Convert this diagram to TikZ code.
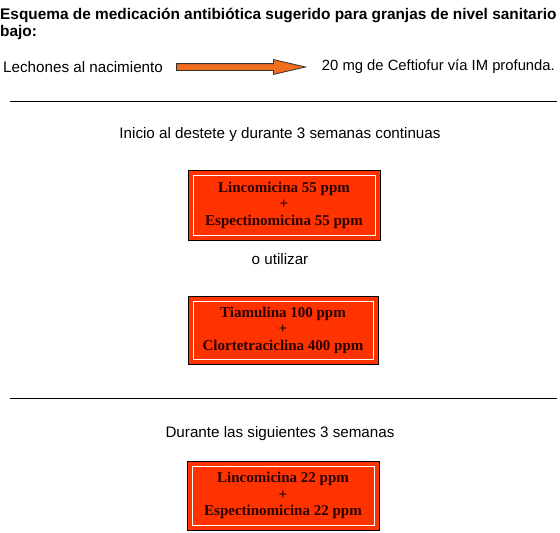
\documentclass[tikz,border=0pt]{standalone}
\usepackage{fontspec}
\setmainfont{Liberation Sans}
\newfontfamily\dosisfont{Liberation Serif}
\usetikzlibrary{positioning,shapes.arrows}
\definecolor{dosisred}{RGB}{255,51,0}
\definecolor{dosistext}{RGB}{40,0,0}
\definecolor{flechaorange}{RGB}{240,110,30}

\begin{document}
\begin{tikzpicture}[x=1pt,y=-1pt,
  dosis/.style={draw=black,fill=dosisred,text=dosistext,align=center,inner sep=0pt,
    font=\dosisfont\bfseries\fontsize{15}{16.5}\selectfont},
  texto/.style={inner sep=0pt,font=\fontsize{15.2}{16}\selectfont}]
\useasboundingbox (0,0) rectangle (560,533);

% Title
\node[anchor=north west,inner sep=0pt,align=left,font=\bfseries\fontsize{15.4}{17}\selectfont] (titulo) at (0,8.5)
  {Esquema de medicación antibiótica sugerido para granjas de nivel sanitario\\bajo:};

% Birth
\node[texto,anchor=west] (lechones) at (3,67) {Lechones al nacimiento};
\node[texto,anchor=east,font=\fontsize{14.8}{16}\selectfont] (ceftiofur) at (555,67) {20 mg de Ceftiofur vía IM profunda.};
\node[single arrow,draw=black!80,fill=flechaorange,anchor=west,right=13 of lechones.east,
  minimum height=129,single arrow head extend=4,single arrow tip angle=26,inner sep=3,
  text height=0pt,text depth=0pt,text width=0pt,line width=0.8] (flecha) {};

\coordinate (sep1a) at (10,101);
\coordinate (sep1b) at (557,101);
\draw[line width=0.8] (sep1a) -- (sep1b);

% Weaning
\node[texto] (destete) at (280,135) {Inicio al destete y durante 3 semanas continuas};
\node[dosis,minimum width=192,minimum height=70] (caja1) at (284,205)
  {Lincomicina 55 ppm\\+\\Espectinomicina 55 ppm};
\draw[white] ([shift={(5,5)}]caja1.north west) rectangle ([shift={(-5,-5)}]caja1.south east);
\node[texto] (utilizar) at (280,259) {o utilizar};
\node[dosis,minimum width=190,minimum height=68] (caja2) at (283,330)
  {Tiamulina 100 ppm\\+\\Clortetraciclina 400 ppm};
\draw[white] ([shift={(5,5)}]caja2.north west) rectangle ([shift={(-5,-5)}]caja2.south east);

\coordinate (sep2a) at (10,398);
\coordinate (sep2b) at (557,398);
\draw[line width=0.8] (sep2a) -- (sep2b);

% Next weeks
\node[texto] (siguientes) at (280,434) {Durante las siguientes 3 semanas};
\node[dosis,minimum width=192,minimum height=69] (caja3) at (283,495.5)
  {Lincomicina 22 ppm\\+\\Espectinomicina 22 ppm};
\draw[white] ([shift={(5,5)}]caja3.north west) rectangle ([shift={(-5,-5)}]caja3.south east);
\end{tikzpicture}
\end{document}
